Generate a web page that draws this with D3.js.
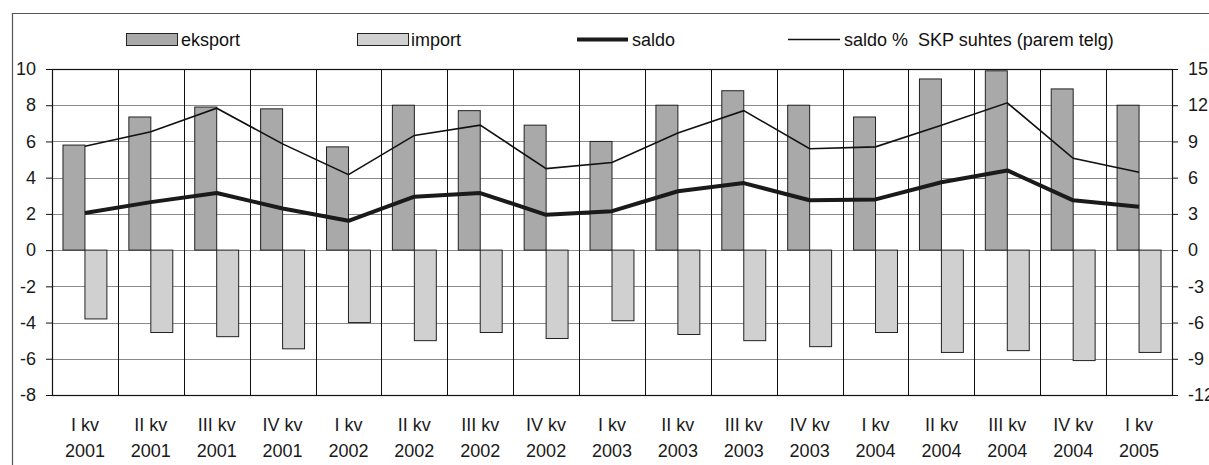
<!DOCTYPE html>
<html><head><meta charset="utf-8">
<script src="https://cdn.jsdelivr.net/npm/d3@7"></script>
<style>body{margin:0;background:#fff}svg{display:block;font-family:"Liberation Sans",Arial,sans-serif}</style>
</head><body><svg id="c" width="1209" height="465"></svg>
<script>
const quarters = ["I kv","II kv","III kv","IV kv","I kv","II kv","III kv","IV kv","I kv","II kv","III kv","IV kv","I kv","II kv","III kv","IV kv","I kv"];
const years = ["2001","2001","2001","2001","2002","2002","2002","2002","2003","2003","2003","2003","2004","2004","2004","2004","2005"];
const eksport = [5.8,7.35,7.9,7.8,5.7,8.0,7.7,6.9,6.0,8.0,8.8,8.0,7.35,9.45,9.9,8.9,8.0];
const importV = [-3.8,-4.55,-4.78,-5.45,-4.0,-5.0,-4.55,-4.88,-3.9,-4.66,-5.0,-5.33,-4.55,-5.65,-5.55,-6.1,-5.65];
const saldo = [2.05,2.65,3.15,2.3,1.62,2.95,3.15,1.95,2.15,3.25,3.7,2.75,2.8,3.75,4.4,2.75,2.4];
const saldoPct = [8.6,9.8,11.75,8.8,6.25,9.5,10.35,6.75,7.25,9.7,11.55,8.4,8.55,10.35,12.2,7.6,6.45];
const leftTicks = [10,8,6,4,2,0,-2,-4,-6,-8];
const rightTicks = [15,12,9,6,3,0,-3,-6,-9,-12];
const legendLabels = ["eksport","import","saldo","saldo %  SKP suhtes (parem telg)"];

const FS = 18;
const svg = d3.select("#c");
const L = 52, R = 1172, T = 69, B = 395;
const idx = d3.range(quarters.length);
const x = d3.scaleBand().domain(idx).range([L, R]).paddingInner(0).paddingOuter(0);
const y = d3.scaleLinear().domain([-8, 10]).range([B, T]);
const y2 = d3.scaleLinear().domain([-12, 15]).range([B, T]);
const bw = x.bandwidth() / 3;

// outer frame
svg.append("path").attr("d", `M12.5,465 V13.5 H1209`).attr("fill","none").attr("stroke","#555").attr("stroke-width",1.2);

// horizontal gridlines
svg.append("g").selectAll("line").data(leftTicks).join("line")
  .attr("x1", L).attr("x2", R).attr("y1", d => Math.round(y(d))+0.5).attr("y2", d => Math.round(y(d))+0.5)
  .attr("stroke", "#8a8a8a").attr("stroke-width", 1);
// vertical gridlines
svg.append("g").selectAll("line").data(d3.range(quarters.length+1)).join("line")
  .attr("x1", d => Math.round(L + d*x.step())+0.5).attr("x2", d => Math.round(L + d*x.step())+0.5)
  .attr("y1", T).attr("y2", B).attr("stroke", "#111").attr("stroke-width", 1);

// bars
svg.append("g").selectAll("rect").data(idx).join("rect")
  .attr("x", i => x(i) + x.bandwidth()/2 - bw).attr("width", bw)
  .attr("y", i => y(eksport[i])).attr("height", i => y(0) - y(eksport[i]))
  .attr("fill", "#a8a9a8").attr("stroke", "#222").attr("stroke-width", 1);
svg.append("g").selectAll("rect").data(idx).join("rect")
  .attr("x", i => x(i) + x.bandwidth()/2).attr("width", bw)
  .attr("y", y(0)).attr("height", i => y(importV[i]) - y(0))
  .attr("fill", "#d0d0d0").attr("stroke", "#222").attr("stroke-width", 1);

// plot border
svg.append("rect").attr("x", L+0.5).attr("y", T+0.5).attr("width", R-L).attr("height", B-T)
  .attr("fill","none").attr("stroke","#111").attr("stroke-width",1.2);

// lines
const cx = i => x(i) + x.bandwidth()/2;
svg.append("path").datum(idx).attr("fill","none").attr("stroke","#111").attr("stroke-width",1.6)
  .attr("d", d3.line().x(cx).y(i => y2(saldoPct[i])));
svg.append("path").datum(idx).attr("fill","none").attr("stroke","#1a1a1a").attr("stroke-width",4)
  .attr("stroke-linejoin","round")
  .attr("d", d3.line().x(cx).y(i => y(saldo[i])));

// axes
const fmt = d => String(d);
const ax = svg.append("g").attr("transform", `translate(${L},0)`)
  .call(d3.axisLeft(y).tickValues(leftTicks).tickFormat(fmt).tickSize(6).tickPadding(10));
const ax2 = svg.append("g").attr("transform", `translate(${R},0)`)
  .call(d3.axisRight(y2).tickValues(rightTicks).tickFormat(fmt).tickSize(6).tickPadding(10));
[ax, ax2].forEach(a => {
  a.attr("font-size", FS).attr("font-family", "'Liberation Sans', Arial, sans-serif");
  a.select(".domain").remove();
  a.selectAll("line").attr("stroke","#111");
  a.selectAll("text").attr("fill","#1a1a1a");
});

// x labels
const xl = svg.append("g").attr("font-size", FS).attr("fill","#1a1a1a");
xl.selectAll("text.q").data(idx).join("text").attr("class","q")
  .attr("x", cx).attr("y", 431).attr("text-anchor","middle")
  .text(i => quarters[i]);
xl.selectAll("text.yr").data(idx).join("text").attr("class","yr")
  .attr("x", cx).attr("y", 457).attr("text-anchor","middle")
  .text(i => years[i]);

// legend
const lg = svg.append("g").attr("font-size", FS).attr("fill","#111");
lg.append("rect").attr("x",126.5).attr("y",33.5).attr("width",51).attr("height",12).attr("fill","#a8a9a8").attr("stroke","#222");
lg.append("text").attr("x",181).attr("y",45.5).text(legendLabels[0]);
lg.append("rect").attr("x",357.5).attr("y",33.5).attr("width",51).attr("height",12).attr("fill","#d0d0d0").attr("stroke","#222");
lg.append("text").attr("x",411).attr("y",45.5).text(legendLabels[1]);
lg.append("line").attr("x1",577).attr("x2",628).attr("y1",39.5).attr("y2",39.5).attr("stroke","#1a1a1a").attr("stroke-width",4);
lg.append("text").attr("x",632).attr("y",45.5).text(legendLabels[2]);
lg.append("line").attr("x1",788).attr("x2",840).attr("y1",39.5).attr("y2",39.5).attr("stroke","#111").attr("stroke-width",1.6);
lg.append("text").attr("x",844).attr("y",45.5).attr("xml:space","preserve").style("white-space","pre").text(legendLabels[3]);
</script></body></html>
